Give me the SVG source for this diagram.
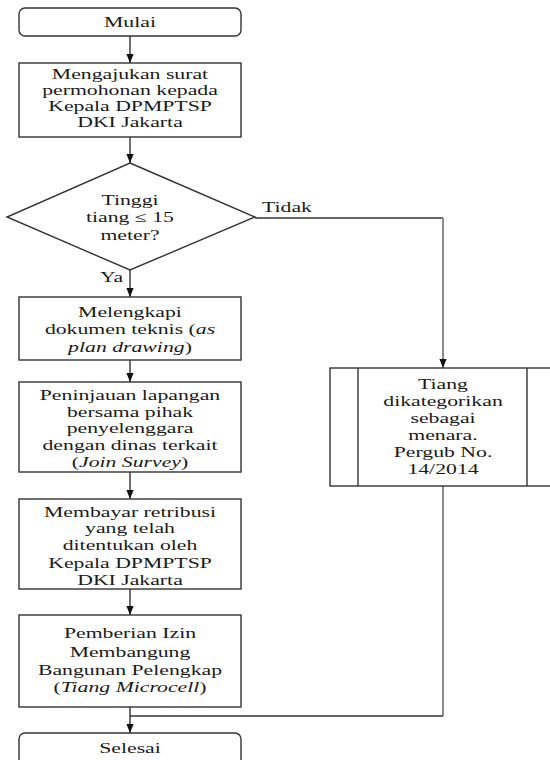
<svg xmlns="http://www.w3.org/2000/svg" width="550" height="760" viewBox="0 0 550 760">
<style>
.box{fill:#fff;stroke:#333;stroke-width:1.4}
.ln{fill:none;stroke:#333;stroke-width:1.4}
.gl{fill:none;stroke:#8c8c8c;stroke-width:2}
.t{font-family:"Liberation Serif","Times New Roman",serif;font-size:14.5px;fill:#1a1a1a;text-anchor:middle}
.l{font-family:"Liberation Serif","Times New Roman",serif;font-size:14.5px;fill:#1a1a1a;text-anchor:start}
.i{font-style:italic}
</style>
<defs>
<marker id="ah" viewBox="0 0 10 10" refX="10" refY="5" markerWidth="9" markerHeight="9" markerUnits="userSpaceOnUse" orient="auto">
<path d="M0,1 L10,5 L0,9 z" fill="#111"/>
</marker>
</defs>
<rect width="550" height="760" fill="#fff"/>
<g id="connectors">
<line class="ln" x1="130" y1="36" x2="130" y2="63" marker-end="url(#ah)"/>
<line class="ln" x1="130" y1="137" x2="130" y2="163" marker-end="url(#ah)"/>
<line class="ln" x1="130" y1="270" x2="130" y2="297" marker-end="url(#ah)"/>
<line class="ln" x1="130" y1="360" x2="130" y2="382" marker-end="url(#ah)"/>
<line class="ln" x1="130" y1="472" x2="130" y2="499" marker-end="url(#ah)"/>
<line class="ln" x1="130" y1="589" x2="130" y2="615" marker-end="url(#ah)"/>
<line class="ln" x1="130" y1="707" x2="130" y2="733" marker-end="url(#ah)"/>
<line class="ln" x1="255" y1="218" x2="443" y2="218"/>
<line class="gl" x1="443" y1="218" x2="443" y2="368" marker-end="url(#ah)"/>
<line class="gl" x1="443" y1="486" x2="443" y2="716"/>
<line class="ln" x1="443" y1="716" x2="130" y2="716"/>
<text class="l" transform="matrix(1.5 0 0 1 262 0)" x="0" y="212">Tidak</text>
<text class="l" transform="matrix(1.5 0 0 1 100 0)" x="0" y="282">Ya</text>
</g>
<g id="mulai">
<rect class="box" x="19" y="8" width="222" height="28" rx="6"/>
<text class="t" transform="matrix(1.5 0 0 1 130 0)" x="0" y="27">Mulai</text>
</g>
<g id="mengajukan">
<rect class="box" x="19" y="63" width="222" height="74"/>
<g transform="matrix(1.5 0 0 1 130 0)">
<text class="t" x="0" y="79">Mengajukan  surat</text>
<text class="t" x="0" y="95">permohonan kepada</text>
<text class="t" x="0" y="111">Kepala DPMPTSP</text>
<text class="t" x="0" y="127">DKI Jakarta</text>
</g>
</g>
<g id="keputusan">
<polygon class="box" points="130,163 255,217 130,270 7,217"/>
<g transform="matrix(1.5 0 0 1 130 0)">
<text class="t" x="0" y="205">Tinggi</text>
<text class="t" x="0" y="222">tiang ≤ 15</text>
<text class="t" x="0" y="240">meter?</text>
</g>
</g>
<g id="melengkapi">
<rect class="box" x="19" y="297" width="222" height="63"/>
<g transform="matrix(1.5 0 0 1 130 0)">
<text class="t" x="0" y="317">Melengkapi</text>
<text class="t" x="0" y="334">dokumen teknis (<tspan class="i">as</tspan></text>
<text class="t" x="0" y="352"><tspan class="i">plan drawing</tspan>)</text>
</g>
</g>
<g id="peninjauan">
<rect class="box" x="19" y="382" width="222" height="90"/>
<g transform="matrix(1.5 0 0 1 130 0)">
<text class="t" x="0" y="400">Peninjauan lapangan</text>
<text class="t" x="0" y="417">bersama  pihak</text>
<text class="t" x="0" y="433">penyelenggara</text>
<text class="t" x="0" y="450">dengan dinas terkait</text>
<text class="t" x="0" y="467">(<tspan class="i">Join  Survey</tspan>)</text>
</g>
</g>
<g id="membayar">
<rect class="box" x="19" y="499" width="222" height="90"/>
<g transform="matrix(1.5 0 0 1 130 0)">
<text class="t" x="0" y="517">Membayar retribusi</text>
<text class="t" x="0" y="533">yang telah</text>
<text class="t" x="0" y="550">ditentukan oleh</text>
<text class="t" x="0" y="568">Kepala DPMPTSP</text>
<text class="t" x="0" y="585">DKI Jakarta</text>
</g>
</g>
<g id="pemberian">
<rect class="box" x="19" y="615" width="222" height="92"/>
<g transform="matrix(1.5 0 0 1 130 0)">
<text class="t" x="0" y="638">Pemberian Izin</text>
<text class="t" x="0" y="657">Membangung</text>
<text class="t" x="0" y="675">Bangunan Pelengkap</text>
<text class="t" x="0" y="692">(<tspan class="i">Tiang  Microcell</tspan>)</text>
</g>
</g>
<g id="menara">
<rect class="box" x="330" y="368" width="235" height="118"/>
<line class="ln" x1="358" y1="368" x2="358" y2="486"/>
<line class="ln" x1="527" y1="368" x2="527" y2="486"/>
<g transform="matrix(1.5 0 0 1 443 0)">
<text class="t" x="0" y="389">Tiang</text>
<text class="t" x="0" y="406">dikategorikan</text>
<text class="t" x="0" y="423">sebagai</text>
<text class="t" x="0" y="440">menara.</text>
<text class="t" x="0" y="457">Pergub No.</text>
<text class="t" x="0" y="474">14/2014</text>
</g>
</g>
<g id="selesai">
<rect class="box" x="19" y="733" width="222" height="40" rx="6"/>
<text class="t" transform="matrix(1.5 0 0 1 130 0)" x="0" y="753">Selesai</text>
</g>
</svg>
